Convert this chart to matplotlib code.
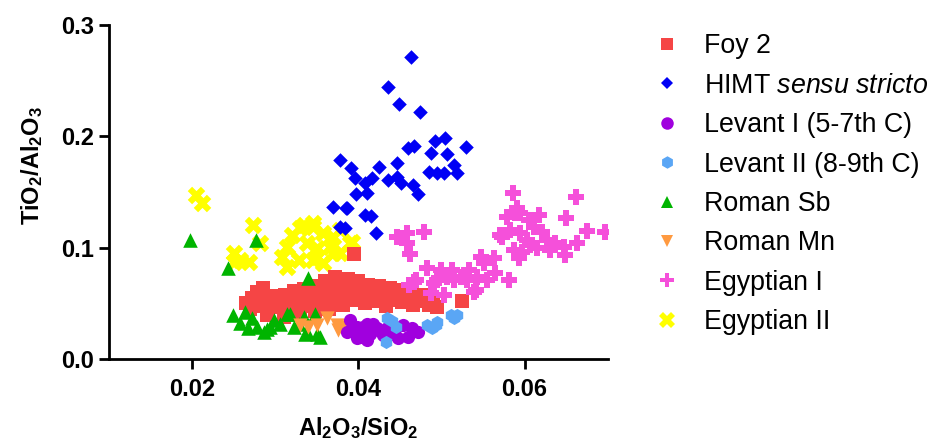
import matplotlib
matplotlib.use("Agg")
import matplotlib.pyplot as plt
from matplotlib.lines import Line2D

plt.rcParams.update({
    "font.family": ["Liberation Sans", "DejaVu Sans"],
    "mathtext.fontset": "custom",
    "mathtext.rm": "Liberation Sans",
    "mathtext.it": "Liberation Sans:italic",
    "mathtext.bf": "Liberation Sans:bold",
    "mathtext.default": "regular",
})

# ---- data (Al2O3/SiO2, TiO2/Al2O3) ----
foy_x = [0.0265, 0.0270, 0.0272, 0.0278, 0.0285, 0.0283, 0.0290, 0.0295, 0.0300, 0.0303,
         0.0308, 0.0312, 0.0315, 0.0320, 0.0322, 0.0328, 0.0330, 0.0335, 0.0338, 0.0342,
         0.0345, 0.0350, 0.0352, 0.0355, 0.0358, 0.0360, 0.0362, 0.0365, 0.0368, 0.0370,
         0.0372, 0.0375, 0.0378, 0.0380, 0.0382, 0.0385, 0.0388, 0.0390, 0.0392, 0.0395,
         0.0398, 0.0400, 0.0402, 0.0405, 0.0408, 0.0410, 0.0412, 0.0415, 0.0418, 0.0420,
         0.0423, 0.0425, 0.0428, 0.0430, 0.0433, 0.0435, 0.0438, 0.0440, 0.0443, 0.0446,
         0.0450, 0.0453, 0.0456, 0.0460, 0.0463, 0.0466, 0.0470, 0.0475, 0.0480, 0.0485,
         0.0490, 0.0495, 0.0395, 0.0525, 0.0489, 0.0290, 0.0310, 0.0330, 0.0348]
foy_y = [0.050, 0.045, 0.055, 0.060, 0.064, 0.048, 0.052, 0.057, 0.047, 0.055,
         0.052, 0.058, 0.049, 0.055, 0.061, 0.052, 0.058, 0.063, 0.054, 0.048,
         0.060, 0.056, 0.066, 0.051, 0.062, 0.070, 0.058, 0.045, 0.053, 0.065,
         0.074, 0.060, 0.056, 0.068, 0.049, 0.063, 0.072, 0.058, 0.053, 0.066,
         0.061, 0.070, 0.055, 0.064, 0.050, 0.060, 0.067, 0.056, 0.063, 0.052,
         0.059, 0.066, 0.055, 0.062, 0.048, 0.058, 0.064, 0.053, 0.060, 0.056,
         0.062, 0.051, 0.058, 0.054, 0.060, 0.049, 0.056, 0.052, 0.058, 0.049,
         0.054, 0.047, 0.094, 0.052, 0.049, 0.040, 0.038, 0.041, 0.043]

himt_x = [0.04635, 0.04353, 0.04494, 0.04747, 0.05040, 0.04920, 0.05293, 0.04666, 0.04599, 0.04880,
          0.05069, 0.03783, 0.03916, 0.04250, 0.04466, 0.03964, 0.04165, 0.04360, 0.04466, 0.04510,
          0.04084, 0.04847, 0.04948, 0.05028, 0.05148, 0.05189, 0.04659, 0.04715, 0.03976, 0.04105,
          0.03855, 0.04084, 0.04153, 0.04217, 0.03700, 0.03864, 0.03783, 0.03840]
himt_y = [0.271, 0.2438, 0.2288, 0.2222, 0.1983, 0.1959, 0.1907, 0.1916, 0.1893, 0.1848,
          0.1842, 0.1788, 0.1713, 0.1722, 0.1764, 0.1624, 0.1624, 0.161, 0.1638, 0.158,
          0.1579, 0.1683, 0.1669, 0.1669, 0.1743, 0.1669, 0.1563, 0.1482, 0.1482, 0.1489,
          0.1359, 0.1294, 0.1285, 0.1135, 0.1368, 0.1354, 0.1189, 0.1175]

lev1_x = [0.0390, 0.0386, 0.0398, 0.0406, 0.0414, 0.0422, 0.0430, 0.0440, 0.0448, 0.0454,
          0.0460, 0.0472, 0.0402, 0.0418, 0.0410, 0.0434, 0.0398, 0.0410, 0.0394, 0.0426,
          0.0444, 0.0465]
lev1_y = [0.035, 0.0245, 0.0186, 0.029, 0.023, 0.0276, 0.0216, 0.023, 0.0186, 0.0305,
          0.020, 0.0245, 0.020, 0.032, 0.017, 0.0276, 0.029, 0.032, 0.026, 0.025,
          0.027, 0.028]

lev2_x = [0.0434, 0.0445, 0.0433, 0.0483, 0.0493, 0.0489, 0.0511, 0.0519, 0.0515, 0.0495,
          0.0440]
lev2_y = [0.0366, 0.029, 0.0155, 0.0305, 0.0305, 0.0276, 0.0395, 0.0395, 0.0366, 0.0335,
          0.0340]

rsb_x = [0.01976, 0.0243, 0.0277, 0.0340, 0.0249, 0.0263, 0.0258, 0.0267, 0.0278, 0.0286,
         0.0294, 0.0306, 0.0314, 0.0322, 0.0334, 0.0338, 0.0348, 0.0350, 0.0272, 0.0298,
         0.0328, 0.0318, 0.0336, 0.0354, 0.0290]
rsb_y = [0.1069, 0.0815, 0.1069, 0.0725, 0.0395, 0.0425, 0.0323, 0.0279, 0.029, 0.0245,
         0.029, 0.032, 0.041, 0.029, 0.038, 0.0245, 0.041, 0.023, 0.0366, 0.035,
         0.032, 0.041, 0.023, 0.020, 0.027]

rmn_x = [0.0362, 0.0340, 0.0350, 0.0374, 0.0386, 0.0376, 0.0330]
rmn_y = [0.0366, 0.029, 0.0305, 0.0305, 0.029, 0.026, 0.031]

eg1_x = [0.05864, 0.06623, 0.06502, 0.06747, 0.06964, 0.06627, 0.0591, 0.0579, 0.0595, 0.0605,
         0.0617, 0.0611, 0.0583, 0.0573, 0.0595, 0.0603, 0.0621, 0.0627, 0.0637, 0.0647,
         0.0649, 0.0587, 0.0597, 0.0593, 0.0615, 0.0631, 0.0607, 0.0547, 0.0563, 0.0551,
         0.0581, 0.0533, 0.0543, 0.0555, 0.0565, 0.0523, 0.0515, 0.0531, 0.0539, 0.0499,
         0.0507, 0.0495, 0.0483, 0.0491, 0.0503, 0.0469, 0.0461, 0.0487, 0.0446, 0.0459,
         0.0479, 0.0459, 0.0462, 0.0588, 0.0571, 0.0467, 0.0513, 0.0541]
eg1_y = [0.1494, 0.1453, 0.1264, 0.1153, 0.1138, 0.1045, 0.1354, 0.1279, 0.1309, 0.1249,
         0.1294, 0.1189, 0.1159, 0.1093, 0.1129, 0.1069, 0.1144, 0.1069, 0.1039, 0.1009,
         0.0934, 0.0979, 0.0964, 0.0905, 0.0995, 0.0979, 0.1024, 0.0919, 0.0905, 0.086,
         0.071, 0.080, 0.074, 0.071, 0.077, 0.074, 0.071, 0.071, 0.0605, 0.080,
         0.074, 0.071, 0.0815, 0.068, 0.0575, 0.071, 0.0665, 0.059, 0.1099, 0.1129,
         0.1144, 0.1039, 0.0943, 0.131, 0.1114, 0.0694, 0.080, 0.062]

eg2_x = [0.02044, 0.02116, 0.0273, 0.0282, 0.0250, 0.0250, 0.0268, 0.0258, 0.0314, 0.0314,
         0.0308, 0.0330, 0.0320, 0.0346, 0.0358, 0.0338, 0.0350, 0.0366, 0.0378, 0.0346,
         0.0370, 0.0390, 0.0334, 0.0346, 0.0378, 0.0392, 0.0358, 0.0328, 0.0370, 0.0350]
eg2_y = [0.1473, 0.1399, 0.1204, 0.104, 0.095, 0.0874, 0.0874, 0.089, 0.101, 0.083,
         0.092, 0.1174, 0.1114, 0.1189, 0.1129, 0.104, 0.0995, 0.101, 0.095, 0.089,
         0.1099, 0.104, 0.1204, 0.122, 0.1159, 0.1054, 0.086, 0.089, 0.095, 0.092]

fig = plt.figure(figsize=(9.32, 4.44), dpi=100)
ax = fig.add_axes([0.117, 0.191, 0.535, 0.753])

# draw order: yellow, red, pink, green, orange, purple, light blue, blue
ax.scatter(eg2_x, eg2_y, marker="X", s=160, color="#FFFF00", lw=0, zorder=2)
ax.scatter(foy_x, foy_y, marker="s", s=95, color="#F54545", lw=0, zorder=3)
ax.scatter(eg1_x, eg1_y, marker="P", s=125, color="#F550DA", lw=0, zorder=4)
ax.scatter(rsb_x, rsb_y, marker="^", s=110, color="#00B400", lw=0, zorder=5)
ax.scatter(rmn_x, rmn_y, marker="v", s=105, color="#FF9A40", lw=0, zorder=6)
ax.scatter(lev1_x, lev1_y, marker="o", s=90, color="#A000DE", lw=0, zorder=7)
ax.scatter(lev2_x, lev2_y, marker="h", s=90, color="#5AA6F5", lw=0, zorder=8)
ax.scatter(himt_x, himt_y, marker="D", s=55, color="#0000F5", lw=0, zorder=9)

ax.set_xlim(0.01, 0.07)
ax.set_ylim(0, 0.3)
ax.set_xticks([0.02, 0.04, 0.06])
ax.set_xticklabels(["0.02", "0.04", "0.06"])
ax.set_yticks([0.0, 0.1, 0.2, 0.3])
ax.set_yticklabels(["0.0", "0.1", "0.2", "0.3"])
for s in ("top", "right"):
    ax.spines[s].set_visible(False)
for s in ("left", "bottom"):
    ax.spines[s].set_linewidth(2)
ax.tick_params(width=2, length=7, labelsize=17)
ax.tick_params(axis="x", pad=6.5)
for lab in ax.get_xticklabels() + ax.get_yticklabels():
    lab.set_fontweight("bold")

ax.set_xlabel("Al$_2$O$_3$/SiO$_2$", fontsize=17, fontweight="bold", labelpad=10)
ax.set_ylabel("TiO$_2$/Al$_2$O$_3$", fontsize=17, fontweight="bold")
ax.yaxis.set_label_coords(-0.128, 0.58)

# legend
handles = [
    Line2D([], [], ls="", marker="s", ms=9, color="#F54545", mew=0),
    Line2D([], [], ls="", marker="D", ms=6.5, color="#0000F5", mew=0),
    Line2D([], [], ls="", marker="o", ms=9, color="#A000DE", mew=0),
    Line2D([], [], ls="", marker="h", ms=9, color="#5AA6F5", mew=0),
    Line2D([], [], ls="", marker="^", ms=9, color="#00B400", mew=0),
    Line2D([], [], ls="", marker="v", ms=9, color="#FF9A40", mew=0),
    Line2D([], [], ls="", marker="P", ms=10, color="#F550DA", mew=0),
    Line2D([], [], ls="", marker="X", ms=11, color="#FFFF00", mew=0),
]
labels = ["Foy 2", r"HIMT $\mathit{sensu\ stricto}$", "Levant I (5-7th C)",
          "Levant II (8-9th C)", "Roman Sb", "Roman Mn", "Egyptian I", "Egyptian II"]
fig.legend(handles, labels, loc="upper left", bbox_to_anchor=(0.701, 0.925),
           frameon=False, fontsize=19.3, labelspacing=0.50, handletextpad=0.9,
           handlelength=1.0, borderaxespad=0, borderpad=0)

fig.savefig("out.png", dpi=100)
